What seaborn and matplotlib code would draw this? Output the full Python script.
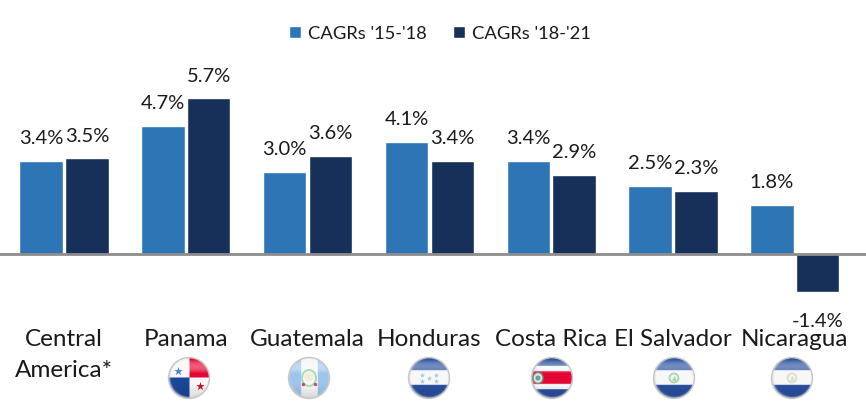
import numpy as np
import pandas as pd
import matplotlib
matplotlib.use("Agg")
import matplotlib.pyplot as plt
from matplotlib.patches import Circle, Ellipse
import seaborn as sns

# Data
countries = ["Central\nAmerica*", "Panama", "Guatemala", "Honduras", "Costa Rica", "El Salvador", "Nicaragua"]
cagr_15_18 = [3.4, 4.7, 3.0, 4.1, 3.4, 2.5, 1.8]
cagr_18_21 = [3.5, 5.7, 3.6, 3.4, 2.9, 2.3, -1.4]
series_names = ["CAGRs '15-'18", "CAGRs '18-'21"]

df = pd.DataFrame({
    "country": countries * 2,
    "cagr": cagr_15_18 + cagr_18_21,
    "period": [series_names[0]] * 7 + [series_names[1]] * 7,
})

sns.set_theme(style="white")
plt.rcParams['font.family'] = ['Lato', 'DejaVu Sans']

W, H = 866, 404
BLUE = "#2e75b6"
NAVY = "#17305a"
TEXT = "#1a1a1a"

fig = plt.figure(figsize=(W / 100, H / 100), dpi=100)
ax = fig.add_axes([0, (H - 323) / H, 1, 323 / H])

sns.barplot(data=df, x="country", y="cagr", hue="period", palette=[BLUE, NAVY],
            width=0.75, gap=0.05, saturation=1, ax=ax)

# one category = 121.8 px, baseline at y = 254 px, 27.3 px per percent
ax.set_xlim(-64 / 121.8, (W - 64) / 121.8)
ax.set_ylim(-69 / 27.3, 254 / 27.3)
ax.axhline(0, color="#8c8c8c", lw=2, zorder=3)
ax.set_xlabel("")
ax.set_ylabel("")
ax.set_yticks([])
ax.tick_params(axis="x", length=0, pad=4, labelsize=17.5, labelcolor=TEXT)
for lab in ax.get_xticklabels():
    lab.set_linespacing(1.6)
sns.despine(ax=ax, left=True, bottom=True, top=True, right=True)
ax.patch.set_alpha(0)

for cont, vals in zip(ax.containers, [cagr_15_18, cagr_18_21]):
    texts = ax.bar_label(cont, labels=[f"{v:.1f}%" for v in vals], padding=10, fontsize=14.5,
                         color=TEXT, clip_on=False)
    for txt, v in zip(texts, vals):
        if v < 0:
            txt.xyann = (0, -15)  # negative label sits lower in the original

ax.legend(loc="upper center", bbox_to_anchor=(0.508, 1.0), ncol=2, frameon=False,
          fontsize=13.2, handlelength=0.66, handleheight=0.66, handletextpad=0.4,
          columnspacing=1.4, labelcolor=TEXT, borderaxespad=1.0)


# Flag icons
def flag_image(kind, n=84):
    v, u = np.mgrid[-1:1:n * 1j, -1:1:n * 1j]
    white = np.array([0.97, 0.97, 0.97])
    blue = np.array([0.16, 0.31, 0.62])
    lblue = np.array([0.62, 0.78, 0.93])
    red = np.array([0.90, 0.02, 0.20])
    img = np.ones((n, n, 3)) * white
    if kind == "panama":
        img[(u > 0) & (v < 0)] = red
        img[(u < 0) & (v > 0)] = np.array([0.10, 0.28, 0.60])
    elif kind == "guatemala":
        img[np.abs(u) > 0.42] = lblue
    elif kind == "costa":
        img[np.abs(v) > 0.58] = blue
        img[np.abs(v) < 0.32] = red
    else:
        img[np.abs(v) > 0.36] = blue
    # glass ball look: pale highlight on top, slightly darker at the bottom
    glow = np.clip((0.35 - (v + 0.55) ** 2 * 3.0), 0, 1)[..., None] * (v < 0)[..., None]
    img = img + (1 - img) * glow
    low = np.clip((v - 0.3) / 0.7, 0, 1)[..., None]
    img = img * (1 - 0.12 * low)
    # soft grey rim
    rad = np.sqrt(u ** 2 + v ** 2)
    rim = np.clip((rad - 0.88) / 0.12, 0, 1)[..., None] ** 2
    img = img * (1 - rim * 0.7) + np.array([0.8, 0.8, 0.8]) * rim * 0.7
    return np.clip(img, 0, 1)


over = fig.add_axes([0, 0, 1, 1])
over.axis("off")
over.patch.set_alpha(0)

flags = [("panama", 189), ("guatemala", 309), ("honduras", 429),
         ("costa", 552), ("salvador", 674), ("nicaragua", 792)]
fy = 378
r = 20.5
for kind, fx in flags:
    im = over.imshow(flag_image(kind), extent=(fx - r, fx + r, fy + r, fy - r),
                     interpolation="bilinear", zorder=2)
    clip = Circle((fx, fy), r, transform=over.transData)
    im.set_clip_path(clip)
    over.add_patch(Circle((fx, fy), r, fill=False, ec="#c8c8c8", lw=1, zorder=5))
    if kind == "panama":
        over.scatter([fx - 11], [fy - 7], marker="*", s=42, c="#4a86d0", lw=0, zorder=4)
        over.scatter([fx + 11], [fy + 8], marker="*", s=42, c="#c8102e", lw=0, zorder=4)
    elif kind == "guatemala":
        over.add_patch(Ellipse((fx, fy), 14, 16, fill=False, ec="#a6dcb8", lw=1.4, zorder=4))
        over.add_patch(Circle((fx, fy - 1), 4.5, fc="#f3eedc", ec="none", zorder=4))
        over.scatter([fx - 6, fx + 6], [fy + 6, fy + 6], marker="o", s=6, c="#d8455a", lw=0, zorder=4)
    elif kind == "honduras":
        over.scatter([fx, fx - 7, fx + 7, fx - 7, fx + 7], [fy, fy - 3, fy - 3, fy + 3, fy + 3],
                     marker="*", s=16, c="#a9c6e6", lw=0, zorder=4)
    elif kind == "costa":
        over.add_patch(Ellipse((fx - 14, fy), 10, 11, fc="#dfe6d8", ec="#6f8f7a", lw=1, zorder=4))
        over.add_patch(Circle((fx - 14, fy), 2.5, fc="#5f9fb8", ec="none", zorder=4))
    else:
        col = "#a5d4b0" if kind == "salvador" else "#d5dfcc"
        over.add_patch(Circle((fx, fy), 4.5, fc="#f2f5ec", ec=col, lw=1.2, zorder=4))
        over.scatter([fx], [fy], marker="^", s=12, c=col, lw=0, zorder=4)

over.set_xlim(0, W)
over.set_ylim(H, 0)
over.set_aspect("auto")

fig.savefig("out.png", dpi=100, facecolor="white")
